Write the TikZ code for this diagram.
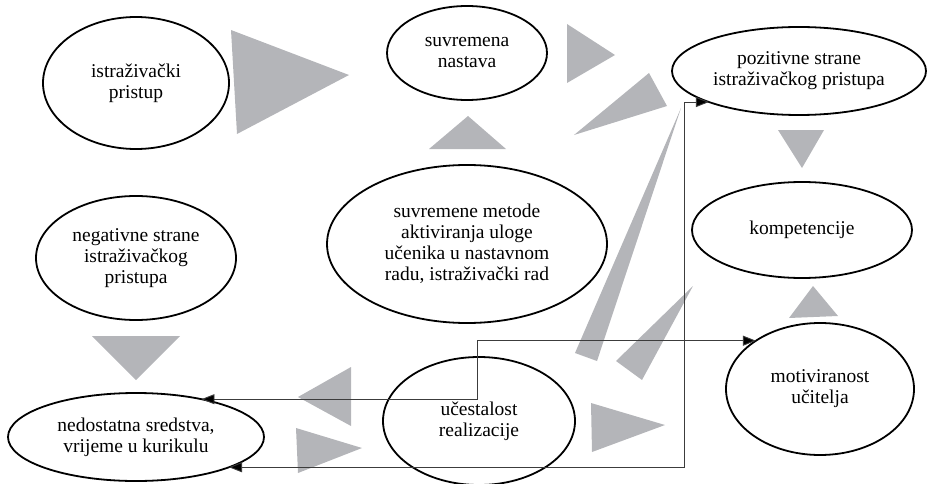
\documentclass[tikz,border=0pt]{standalone}
\usepackage{fontspec}
\setmainfont{Liberation Serif}
\usetikzlibrary{shapes.geometric,arrows.meta}
\definecolor{trigray}{RGB}{180,181,185}
\definecolor{connline}{RGB}{60,60,60}
\tikzset{
  oval/.style={ellipse, draw=black, line width=1.8pt, inner sep=0pt, outer sep=0pt,
    align=center, font=\fontsize{19.5}{21}\selectfont},
  tri/.style={fill=trigray, draw=none},
  conn/.style={draw=connline, line width=0.9pt,
    {Triangle[length=13pt,width=10pt,fill=black]}-{Triangle[length=13pt,width=10pt,fill=black]}}
}
\begin{document}
\begin{tikzpicture}[x=1pt,y=-1pt]
\useasboundingbox (0,0) rectangle (928,484);
% gray triangles
\fill[tri] (231,30) -- (237,134) -- (349,75) -- cycle;
\fill[tri] (567,24) -- (567,83) -- (615,55) -- cycle;
\fill[tri] (649,73) -- (667,106) -- (574,135) -- cycle;
\fill[tri] (429,149) -- (506,149) -- (468,116) -- cycle;
\fill[tri] (778,130) -- (824,130) -- (802,168) -- cycle;
\fill[tri] (681,108) -- (575,353) -- (597,361) -- cycle;
\fill[tri] (693,286) -- (616,361) -- (642,380) -- cycle;
\fill[tri] (789,318) -- (838,316) -- (813,286) -- cycle;
\fill[tri] (92,336) -- (180,336) -- (136,380) -- cycle;
\fill[tri] (351,367) -- (351,426) -- (298,397) -- cycle;
\fill[tri] (296,428) -- (298,473) -- (362,448) -- cycle;
\fill[tri] (591,403) -- (592,452) -- (665,425) -- cycle;
% ellipses
\node[oval, minimum width=186pt, minimum height=132pt] (ist) at (136,83) {istraživački\\pristup};
\node[oval, minimum width=160pt, minimum height=94pt] (suv) at (467,53) {suvremena\\nastava};
\node[oval, minimum width=254pt, minimum height=88pt] (poz) at (799,71) {pozitivne strane\\istraživačkog pristupa};
\node[oval, minimum width=200pt, minimum height=124pt] (neg) at (136,258) {negativne strane\\istraživačkog\\pristupa};
\node[oval, minimum width=280pt, minimum height=158pt] (met) at (467,244) {suvremene metode\\aktiviranja uloge\\učenika u nastavnom\\radu, istraživački rad};
\node[oval, minimum width=220pt, minimum height=96pt] (kom) at (802,230) {kompetencije};
\node[oval, minimum width=188pt, minimum height=132pt] (mot) at (820,389) {motiviranost\\učitelja};
\node[oval, minimum width=256pt, minimum height=88pt] (ned) at (136,437) {nedostatna sredstva,\\vrijeme u kurikulu};
\node[oval, minimum width=192pt, minimum height=128pt] (uce) at (479,421) {učestalost\\realizacije};
% connectors
\coordinate (bendA) at (477,0);
\coordinate (bendB) at (684,0);
\draw[conn] (ned.30.6) -| (bendA |- mot.143.8) -- (mot.143.8);
\draw[conn] (ned.-18.9) -| (bendB |- poz.199.9) -- (poz.199.9);
\end{tikzpicture}
\end{document}
